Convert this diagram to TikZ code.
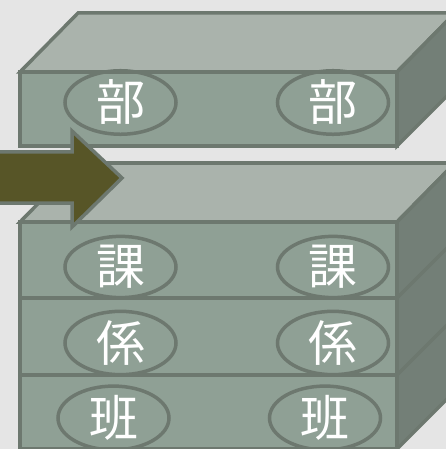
\documentclass[tikz,border=0pt]{standalone}
\usepackage{fontspec}
\newfontfamily\cjk{Noto Sans CJK JP}
\usetikzlibrary{shapes.geometric}
\definecolor{bg}{HTML}{E5E5E5}
\definecolor{edge}{HTML}{6D786F}
\definecolor{topf}{HTML}{AAB3AC}
\definecolor{frontf}{HTML}{8FA095}
\definecolor{sidef}{HTML}{737F77}
\definecolor{arrowf}{HTML}{575527}
\tikzset{
  face/.style={draw=edge, line width=3.5pt, line join=miter},
  oval/.style={ellipse, draw=edge, line width=3.5pt, minimum width=111pt, minimum height=56pt, inner sep=0pt, text=white, font=\cjk\fontsize{49}{52}\selectfont},
}
\begin{document}
\begin{tikzpicture}[x=1pt,y=-1pt]
\useasboundingbox (0,0) rectangle (446,449);
\fill[bg] (0,0) rectangle (446,449);
\begin{scope}
\clip (0,0) rectangle (446,449);
% top box
\filldraw[face, fill=topf] (20,72) -- (78,13) -- (455,13) -- (397,72) -- cycle;
\filldraw[face, fill=sidef] (397,72) -- (455,13) -- (455,88) -- (397,146) -- cycle;
\filldraw[face, fill=frontf] (20,72) rectangle (397,146);
% lower box
\filldraw[face, fill=topf] (20,222) -- (78,163) -- (455,163) -- (397,222) -- cycle;
\filldraw[face, fill=sidef] (397,222) -- (455,163) -- (455,391) -- (397,449) -- cycle;
\draw[face] (397,298) -- (455,240);
\draw[face] (397,375) -- (455,317);
\filldraw[face, fill=frontf] (20,222) rectangle (397,298);
\filldraw[face, fill=frontf] (20,298) rectangle (397,375);
\filldraw[face, fill=frontf] (20,375) rectangle (397,449);
% ovals
\node[oval] (bu1) at (120.5,102.5) {部};
\node[oval] (bu2) at (333,102.5) {部};
\node[oval] (ka1) at (120.5,267) {\raisebox{-3pt}{課}};
\node[oval] (ka2) at (333,267) {\raisebox{-3pt}{課}};
\node[oval] (kk1) at (120.5,343) {\raisebox{-3pt}{係}};
\node[oval] (kk2) at (333,343) {\raisebox{-3pt}{係}};
\node[oval] (ha1) at (113.5,418) {\raisebox{-3pt}{班}};
\node[oval] (ha2) at (325,418) {\raisebox{-3pt}{班}};
% arrow
\filldraw[face, fill=arrowf] (-20,152) -- (72,152) -- (72,131) -- (122,178) -- (72,227) -- (72,203) -- (-20,203) -- cycle;
\end{scope}
\end{tikzpicture}
\end{document}
